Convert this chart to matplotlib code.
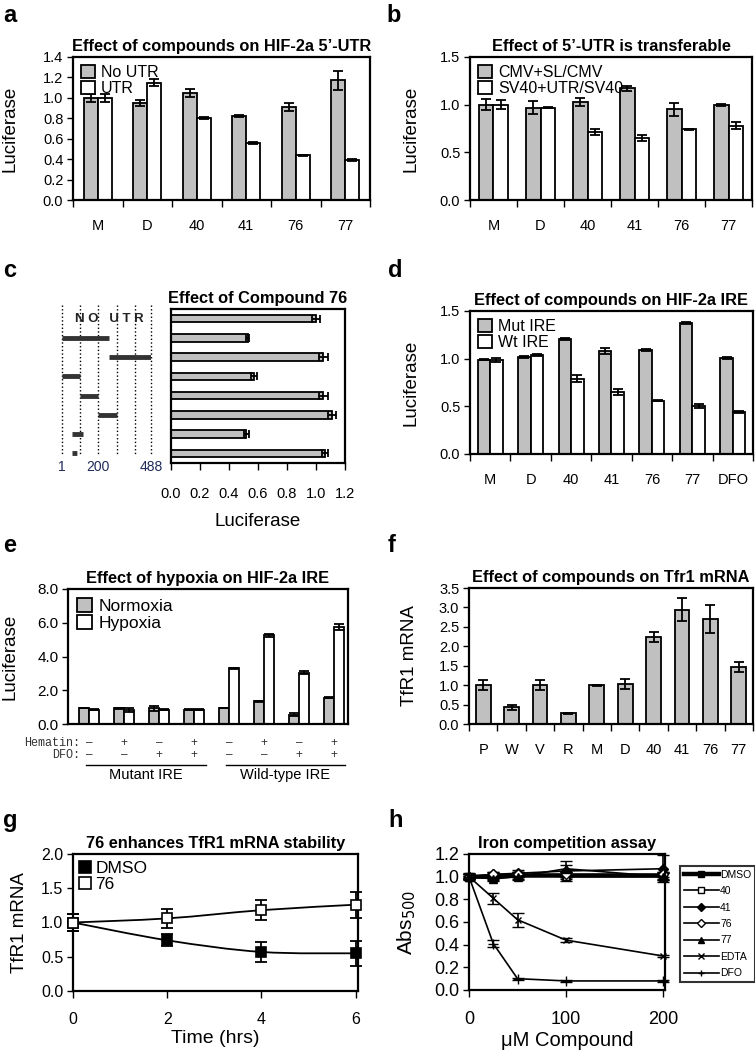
"""
Eight-panel figure: luciferase reporter assays, TfR1 mRNA and iron competition.
Saves out.png (755x1050).
"""

import numpy as np
import matplotlib.pyplot as plt
import matplotlib.transforms as mtransforms
from matplotlib.path import Path
from matplotlib.patches import PathPatch
from matplotlib.lines import Line2D

plt.rcParams['font.family'] = ['Liberation Sans', 'DejaVu Sans']

# ----- Data -----
# a: HIF-2a 5'-UTR
cats_a = ["M", "D", "40", "41", "76", "77"]
no_utr = [1.00, 0.95, 1.05, 0.82, 0.91, 1.17]
no_utr_err = [0.04, 0.03, 0.04, 0.01, 0.04, 0.09]
utr = [1.00, 1.15, 0.80, 0.56, 0.44, 0.39]
utr_err = [0.04, 0.03, 0.01, 0.01, 0.005, 0.01]

# b: transferable 5'-UTR
cats_b = ["M", "D", "40", "41", "76", "77"]
cmv = [1.00, 0.97, 1.03, 1.17, 0.95, 1.00]
cmv_err = [0.06, 0.07, 0.04, 0.03, 0.07, 0.01]
sv40 = [1.00, 0.97, 0.71, 0.65, 0.74, 0.78]
sv40_err = [0.05, 0.01, 0.03, 0.03, 0.01, 0.04]

# c: deletion constructs, compound 76
c_vals = [1.00, 0.53, 1.05, 0.57, 1.05, 1.11, 0.52, 1.06]
c_err = [0.03, 0.01, 0.03, 0.02, 0.03, 0.03, 0.02, 0.02]
c_guides = [1, 100, 200, 300, 400, 488]
c_seg_start = [1, 260, 1, 100, 200, 55]
c_seg_end = [260, 488, 100, 200, 300, 115]
c_seg_rows = [1, 2, 3, 4, 5, 6]
c_small = (55, 100)

# d: HIF-2a IRE
cats_d = ["M", "D", "40", "41", "76", "77", "DFO"]
mut_ire = [0.99, 1.02, 1.21, 1.08, 1.09, 1.37, 1.01]
mut_ire_err = [0.005, 0.01, 0.01, 0.03, 0.01, 0.01, 0.01]
wt_ire = [0.99, 1.04, 0.79, 0.65, 0.56, 0.50, 0.44]
wt_ire_err = [0.02, 0.01, 0.04, 0.03, 0.005, 0.02, 0.01]

# e: hypoxia
normoxia = [0.95, 0.92, 0.92, 0.85, 0.95, 1.35, 0.55, 1.55]
normoxia_err = [0.02, 0.03, 0.12, 0.02, 0.02, 0.03, 0.10, 0.03]
hypoxia = [0.85, 0.82, 0.85, 0.85, 3.30, 5.25, 3.05, 5.75]
hypoxia_err = [0.02, 0.10, 0.02, 0.02, 0.03, 0.10, 0.10, 0.15]
hematin = ["\u2013", "+", "\u2013", "+", "\u2013", "+", "\u2013", "+"]
dfo = ["\u2013", "\u2013", "+", "+", "\u2013", "\u2013", "+", "+"]

# f: Tfr1 mRNA
cats_f = ["P", "W", "V", "R", "M", "D", "40", "41", "76", "77"]
tfr1 = [1.00, 0.43, 1.00, 0.28, 1.00, 1.03, 2.24, 2.94, 2.71, 1.47]
tfr1_err = [0.13, 0.07, 0.13, 0.01, 0.01, 0.13, 0.12, 0.30, 0.36, 0.13]

# g: mRNA stability
time_h = [0, 2, 4, 6]
dmso_g = [1.00, 0.74, 0.57, 0.55]
dmso_g_err = [0.12, 0.09, 0.14, 0.18]
c76_g = [1.00, 1.06, 1.18, 1.26]
c76_g_err = [0.12, 0.14, 0.15, 0.19]

# h: iron competition
conc = [0, 25, 50, 100, 200]
h_series = ["DMSO", "40", "41", "76", "77", "EDTA", "DFO"]
h_vals = {
    "DMSO": [1.00, 1.00, 1.01, 1.01, 1.01],
    "40": [1.00, 1.00, 1.02, 1.00, 1.00],
    "41": [1.00, 1.02, 1.03, 1.05, 1.07],
    "76": [1.00, 1.02, 1.02, 1.02, 1.02],
    "77": [1.00, 0.98, 1.00, 1.07, 1.00],
    "EDTA": [1.00, 0.81, 0.62, 0.44, 0.30],
    "DFO": [1.00, 0.41, 0.10, 0.08, 0.08],
}
h_errs = {
    "DMSO": [0.03, 0.03, 0.03, 0.03, 0.03],
    "40": [0.02, 0.02, 0.02, 0.04, 0.03],
    "41": [0.02, 0.02, 0.03, 0.05, 0.12],
    "76": [0.02, 0.02, 0.02, 0.02, 0.02],
    "77": [0.02, 0.02, 0.03, 0.07, 0.03],
    "EDTA": [0.01, 0.05, 0.06, 0.02, 0.01],
    "DFO": [0.01, 0.03, 0.01, 0.01, 0.01],
}

GRAY = "#C0C0C0"
TITLE = dict(fontsize=11.8, fontweight="bold", pad=4)
W, H = 755, 1050

fig = plt.figure(figsize=(W / 100, H / 100), dpi=100)


def px_axes(l, t, r, b):
    return fig.add_axes([l / W, 1 - b / H, (r - l) / W, (b - t) / H])


def style(ax):
    for s in ax.spines.values():
        s.set_linewidth(1.6)
    ax.tick_params(direction="out", length=4, width=1, labelsize=10.5, pad=3)


def cat_axis(ax, labels, lo=-0.5):
    n = len(labels)
    ax.set_xlim(lo, lo + n)
    ax.set_xticks(np.arange(n))
    ax.set_xticklabels(labels)
    ax.set_xticks(np.arange(n + 1) + lo, minor=True)
    ax.tick_params(axis="x", which="major", length=0, pad=14, labelsize=10.5)
    ax.tick_params(axis="x", which="minor", length=5, width=1)


def ylabel_at(ax, text, x_px, box, size=13.5):
    l, t, r, b = box
    ax.set_ylabel(text, fontsize=size)
    ax.yaxis.set_label_coords((x_px - l) / (r - l), 0.5)


def panel_label(letter, x, y):
    fig.text(x / W, 1 - y / H, letter, fontsize=17, fontweight="bold",
             ha="left", va="baseline")


def paired_bars(ax, x, a, aerr, b, berr, w, la, lb):
    ax.bar(x - w / 2, a, w, color=GRAY, edgecolor="black", lw=1.3, label=la)
    ax.bar(x + w / 2, b, w, color="white", edgecolor="black", lw=1.3, label=lb)
    for xs, v, e in [(x - w / 2, a, aerr), (x + w / 2, b, berr)]:
        ax.errorbar(xs, v, yerr=e, fmt="none", ecolor="black",
                    elinewidth=1.3, capsize=3.5, capthick=1.3)


def square_legend(ax, size):
    ax.legend(loc="upper left", frameon=False, fontsize=size,
              handlelength=0.9, handleheight=0.9, handletextpad=0.35,
              labelspacing=0.05, borderaxespad=0.3, borderpad=0.2)


# ----- a -----
box = (73, 57, 370, 200)
ax = px_axes(*box)
style(ax)
paired_bars(ax, np.arange(len(cats_a)), no_utr, no_utr_err, utr, utr_err,
            0.28, "No UTR", "UTR")
cat_axis(ax, cats_a)
ax.set_ylim(0, 1.4)
ax.set_yticks(np.arange(0, 1.41, 0.2))
ax.yaxis.set_major_formatter(plt.FormatStrFormatter("%.1f"))
ylabel_at(ax, "Luciferase", 19, box)
ax.set_title("Effect of compounds on HIF-2a 5\u2019-UTR", **TITLE)
square_legend(ax, 11.5)
panel_label("a", 3, 22)

# ----- b -----
box = (470, 57, 752, 200)
ax = px_axes(*box)
style(ax)
paired_bars(ax, np.arange(len(cats_b)), cmv, cmv_err, sv40, sv40_err,
            0.3, "CMV+SL/CMV", "SV40+UTR/SV40")
cat_axis(ax, cats_b)
ax.set_ylim(0, 1.5)
ax.set_yticks([0, 0.5, 1.0, 1.5])
ax.yaxis.set_major_formatter(plt.FormatStrFormatter("%.1f"))
ylabel_at(ax, "Luciferase", 420, box)
ax.set_title("Effect of 5\u2019-UTR is transferable", **TITLE)
square_legend(ax, 11.5)
panel_label("b", 386, 22)

# ----- c -----
box = (171, 309, 345, 463)
ax = px_axes(*box)
style(ax)
rows = np.arange(len(c_vals))
ax.barh(rows, c_vals, 0.4, color=GRAY, edgecolor="black", lw=1.3)
ax.errorbar(c_vals, rows, xerr=c_err, fmt="none", ecolor="black",
            elinewidth=1.3, capsize=3, capthick=1.3)
ax.set_ylim(len(c_vals) - 0.5, -0.5)
ax.set_yticks([])
ax.set_xlim(0, 1.2)
ax.set_xticks(np.arange(0, 1.21, 0.2))
ax.xaxis.set_major_formatter(plt.FormatStrFormatter("%.1f"))
ax.tick_params(axis="x", length=5, pad=12)
ax.set_xlabel("Luciferase", fontsize=13.5)
ax.xaxis.set_label_coords(0.5, -(513 - 463) / (463 - 309))
ax.set_title("Effect of Compound 76", **TITLE)
panel_label("c", 3, 277)

# schematic of the 5'-UTR fragments
dg = px_axes(62, 309, 151, 463)
dg.set_xlim(1, 488)
dg.set_ylim(len(c_vals) - 0.5, -0.5)
dg.axis("off")
dg.vlines(c_guides, -0.7, 7.1, colors="black", linestyles=":", lw=1,
          clip_on=False)
dg.hlines(c_seg_rows, c_seg_start, c_seg_end, colors="#333333", lw=3.5)
dg.hlines([7], [c_small[0]], [c_small[1]], colors="#333333", lw=3.5,
          linestyles=(0, (1, 1)))
dg.text(262, 0, "N O   U T R", ha="center", va="center", fontsize=9.5,
        fontweight="bold", color="#222222")
for pos in [1, 200, 488]:
    dg.text(pos, 7.72, str(pos), ha="center", va="center", fontsize=10,
            color="#1f2a5a", clip_on=False)

# ----- d -----
box = (470, 311, 753, 454)
ax = px_axes(*box)
style(ax)
paired_bars(ax, np.arange(len(cats_d)), mut_ire, mut_ire_err, wt_ire,
            wt_ire_err, 0.31, "Mut IRE", "Wt IRE")
cat_axis(ax, cats_d)
ax.set_ylim(0, 1.5)
ax.set_yticks([0, 0.5, 1.0, 1.5])
ax.yaxis.set_major_formatter(plt.FormatStrFormatter("%.1f"))
ylabel_at(ax, "Luciferase", 420, box)
ax.set_title("Effect of compounds on HIF-2a IRE", **TITLE)
square_legend(ax, 11.5)
panel_label("d", 388, 277)

# ----- e -----
box = (68, 589, 348, 724)
ax = px_axes(*box)
style(ax)
xe = np.arange(len(normoxia))
paired_bars(ax, xe, normoxia, normoxia_err, hypoxia, hypoxia_err, 0.28,
            "Normoxia", "Hypoxia")
ax.set_xlim(-0.6, 7.4)
ax.set_xticks([])
ax.set_ylim(0, 8)
ax.set_yticks(np.arange(0, 8.1, 2))
ax.yaxis.set_major_formatter(plt.FormatStrFormatter("%.1f"))
ax.tick_params(axis="y", labelsize=11)
ylabel_at(ax, "Luciferase", 19, box)
ax.set_title("Effect of hypoxia on HIF-2a IRE", **TITLE)
square_legend(ax, 12.5)
trans = mtransforms.blended_transform_factory(ax.transData, ax.transAxes)
row_y = [-(743 - 724) / 135, -(755 - 724) / 135]
x_lab = (80 - 68) / 35 - 0.6
ax.text(x_lab, row_y[0], "Hematin:", transform=trans, ha="right",
        va="center", fontsize=8.5, family="Liberation Mono", color="#333333")
ax.text(x_lab, row_y[1], "DFO:", transform=trans, ha="right",
        va="center", fontsize=8.5, family="Liberation Mono", color="#333333")
for i in range(len(hematin)):
    ax.text(xe[i], row_y[0], hematin[i], transform=trans, ha="center",
            va="center", fontsize=8.5, color="#333333")
    ax.text(xe[i], row_y[1], dfo[i], transform=trans, ha="center",
            va="center", fontsize=8.5, color="#333333")
line_y = -(765 - 724) / 135
for x0, x1, name in [(-0.1, 3.35, "Mutant IRE"), (3.9, 7.3, "Wild-type IRE")]:
    ax.plot([x0, x1], [line_y, line_y], color="black", lw=1, transform=trans,
            clip_on=False)
    ax.text((x0 + x1) / 2, line_y - 0.02, name, transform=trans, ha="center",
            va="top", fontsize=10.5)
panel_label("e", 3, 552)

# ----- f -----
box = (469, 588, 753, 724)
ax = px_axes(*box)
style(ax)
xf = np.arange(len(cats_f))
ax.bar(xf, tfr1, 0.52, color=GRAY, edgecolor="black", lw=1.3)
ax.errorbar(xf, tfr1, yerr=tfr1_err, fmt="none", ecolor="black",
            elinewidth=1.3, capsize=3.5, capthick=1.3)
cat_axis(ax, cats_f)
ax.set_ylim(0, 3.5)
ax.set_yticks(np.arange(0, 3.51, 0.5))
ax.yaxis.set_major_formatter(plt.FormatStrFormatter("%.1f"))
ylabel_at(ax, "TfR1 mRNA", 418, box)
ax.set_title("Effect of compounds on Tfr1 mRNA", **TITLE)
panel_label("f", 388, 552)


# ----- g -----
def smooth_path(xs, ys):
    pts = np.column_stack([xs, ys]).astype(float)
    ext = np.vstack([pts[0], pts, pts[-1]])
    verts = [pts[0]]
    codes = [Path.MOVETO]
    for i in range(len(pts) - 1):
        p0, p1, p2, p3 = ext[i], ext[i + 1], ext[i + 2], ext[i + 3]
        verts += [p1 + (p2 - p0) / 6, p2 - (p3 - p1) / 6, p2]
        codes += [Path.CURVE4] * 3
    return Path(verts, codes)


box = (73, 854, 358, 991)
ax = px_axes(*box)
style(ax)
for vals, errs, face, name in [(dmso_g, dmso_g_err, "black", "DMSO"),
                               (c76_g, c76_g_err, "white", "76")]:
    ax.add_patch(PathPatch(smooth_path(time_h, vals), fill=False,
                           edgecolor="black", lw=1.3, zorder=2))
    ax.errorbar(time_h, vals, yerr=errs, fmt="none", ecolor="black",
                elinewidth=1.3, capsize=4, capthick=1.3, zorder=3,
                clip_on=False)
    ax.plot(time_h, vals, ls="none", marker="s", ms=7, mfc=face,
            mec="black", mew=1.2, label=name, zorder=4, clip_on=False)
ax.set_xlim(0, 6.05)
ax.set_ylim(0, 2)
ax.set_xticks(time_h)
ax.set_yticks([0, 0.5, 1.0, 1.5, 2.0])
ax.yaxis.set_major_formatter(plt.FormatStrFormatter("%.1f"))
ax.tick_params(labelsize=11.5)
ax.tick_params(axis="x", length=5, pad=10)
ylabel_at(ax, "TfR1 mRNA", 28, box)
ax.set_xlabel("Time (hrs)", fontsize=14, labelpad=2)
ax.set_title("76 enhances TfR1 mRNA stability", **TITLE)
ax.legend(loc="upper left", frameon=False, fontsize=12.5, handlelength=0.6,
          handletextpad=0.3, labelspacing=0.05, borderaxespad=0.2,
          borderpad=0.2, markerscale=1.3)
panel_label("g", 3, 827)

# ----- h -----
box = (469, 854, 665, 990)
ax = px_axes(*box)
style(ax)
h_marker = {"DMSO": "s", "40": "s", "41": "D", "76": "D", "77": "^",
            "EDTA": "x", "DFO": "+"}
h_face = {"DMSO": "black", "40": "white", "41": "black", "76": "white",
          "77": "black", "EDTA": "black", "DFO": "black"}
h_ms = {"DMSO": 6, "40": 5, "41": 5, "76": 5, "77": 6, "EDTA": 5, "DFO": 7}
legend_handles = []
for name in h_series:
    lw = 3.2 if name == "DMSO" else 1.2
    ax.errorbar(conc, h_vals[name], yerr=h_errs[name], color="black", lw=lw,
                elinewidth=1.2, capsize=4, capthick=1.2, marker=h_marker[name],
                ms=h_ms[name], mfc=h_face[name], mec="black", mew=1,
                clip_on=False)
    legend_handles.append(Line2D([], [], color="black", lw=lw,
                                 marker=h_marker[name], ms=4,
                                 mfc=h_face[name], mec="black", mew=1,
                                 label=name))
ax.set_xlim(0, 202)
ax.set_ylim(0, 1.2)
ax.set_xticks([0, 100, 200])
ax.set_yticks(np.arange(0, 1.21, 0.2))
ax.yaxis.set_major_formatter(plt.FormatStrFormatter("%.1f"))
ax.tick_params(labelsize=13)
ax.tick_params(axis="x", length=5, pad=10)
ylabel_at(ax, "Abs$_{500}$", 418, box, size=15)
ax.set_xlabel("\u03bcM Compound", fontsize=14.5, labelpad=2)
ax.set_title("Iron competition assay", **TITLE)
leg = ax.legend(handles=legend_handles, loc="upper left",
                bbox_to_anchor=(680 / W, 1 - 866 / H),
                bbox_transform=fig.transFigure, fontsize=7.5, frameon=True,
                fancybox=False, edgecolor="black", handlelength=3.4,
                handletextpad=0.1, labelspacing=0.62, borderpad=0.35,
                borderaxespad=0)
leg.get_frame().set_linewidth(1.5)
panel_label("h", 388, 827)

plt.savefig("out.png", dpi=100)
print("Saved out.png")
